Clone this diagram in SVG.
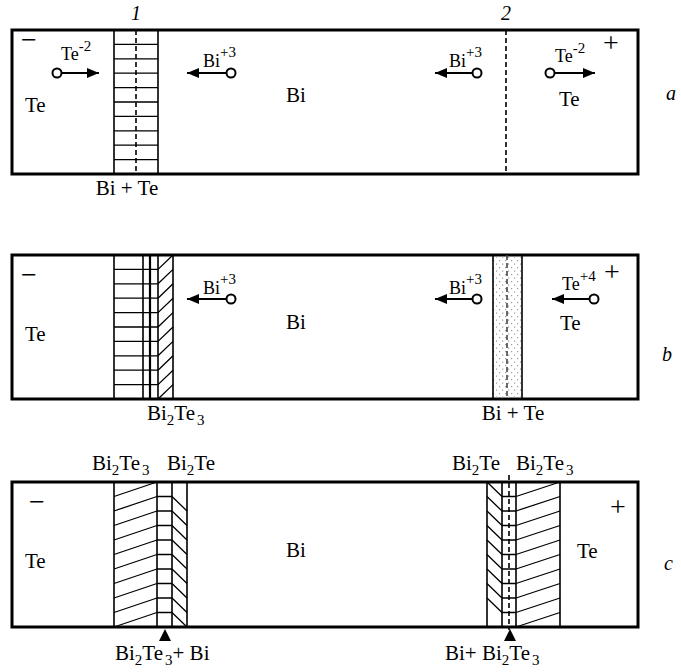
<svg xmlns="http://www.w3.org/2000/svg" width="681" height="672" viewBox="0 0 681 672" font-family="Liberation Serif, Times New Roman, Tinos, Nimbus Roman, DejaVu Serif, serif">
<defs>
<style>
text{font-family:Liberation Serif, Times New Roman, Tinos, Nimbus Roman, DejaVu Serif, serif;fill:#000}
.lbl{font-size:21px}
.ion{font-size:18px}
.sup{font-size:15px}
.sign{font-size:28px}
.it{font-style:italic;font-size:20px}
.mid{text-anchor:middle}
.box{fill:#fff;stroke:#000;stroke-width:3}
.v{stroke:#000;stroke-width:1.6;fill:none}
.h{stroke:#000;stroke-width:1.3;fill:none}
.dash{stroke:#000;stroke-width:1.6;stroke-dasharray:5,3;fill:none}
.arr{stroke:#000;stroke-width:2;fill:none;marker-end:url(#ah)}
.ioncirc{fill:#fff;stroke:#000;stroke-width:2}
</style>
<marker id="ah" markerUnits="userSpaceOnUse" markerWidth="12" markerHeight="10" refX="12" refY="5" orient="auto">
<path d="M0,0 L12,5 L0,10 z" fill="#000"/>
</marker>
<pattern id="dots" patternUnits="userSpaceOnUse" width="6" height="7">
<rect x="1" y="1" width="1.2" height="1.2" fill="#999"/>
<rect x="4" y="4.5" width="1.2" height="1.2" fill="#999"/>
</pattern>
</defs>

<!-- Panel a -->
<g id="panel-a">
<rect class="box" x="12" y="30" width="626" height="144"/>
<g id="a-band1">
<path class="h" d="M114,44.4H158M114,58.8H158M114,73.2H158M114,87.6H158M114,102H158M114,116.4H158M114,130.8H158M114,145.2H158M114,159.6H158"/>
<path class="v" d="M114,30V174M158,30V174"/>
<path class="dash" d="M136,30V174"/>
<text class="it" x="131" y="20">1</text>
</g>
<g id="a-line2">
<path class="dash" d="M506,30V174"/>
<text class="it" x="501" y="20">2</text>
</g>
<text class="sign" x="21" y="49">−</text>
<text class="sign" x="603" y="52">+</text>
<text class="lbl" x="25" y="112">Te</text>
<text class="lbl" x="286" y="102">Bi</text>
<text class="lbl" x="559" y="106">Te</text>
<g id="a-ion1"><text class="ion" x="61" y="60">Te<tspan class="sup" dy="-9">-2</tspan></text><path class="arr" d="M62,73H99"/><circle class="ioncirc" cx="57" cy="73" r="4.5"/></g>
<g id="a-ion2"><text class="ion" x="203" y="67">Bi<tspan class="sup" dy="-10">+3</tspan></text><path class="arr" d="M226,73H187"/><circle class="ioncirc" cx="231" cy="73" r="4.5"/></g>
<g id="a-ion3"><text class="ion" x="449" y="67">Bi<tspan class="sup" dy="-10">+3</tspan></text><path class="arr" d="M472,73H435"/><circle class="ioncirc" cx="477" cy="73" r="4.5"/></g>
<g id="a-ion4"><text class="ion" x="555" y="62">Te<tspan class="sup" dy="-9">-2</tspan></text><path class="arr" d="M555,73H595"/><circle class="ioncirc" cx="550" cy="73" r="4.5"/></g>
<text class="lbl mid" x="127" y="195">Bi + Te</text>
<text class="it" x="666" y="100">a</text>
</g>

<!-- Panel b -->
<g id="panel-b">
<rect class="box" x="12" y="255" width="626" height="144"/>
<g id="b-band1">
<path class="h" d="M114,269.4H158M114,283.8H158M114,298.2H158M114,312.6H158M114,327H158M114,341.4H158M114,355.8H158M114,370.2H158M114,384.6H158"/>
<path class="h" d="M158,269.4L173,255M158,283.8L173,269.4M158,298.2L173,283.8M158,312.6L173,298.2M158,327L173,312.6M158,341.4L173,327M158,355.8L173,341.4M158,370.2L173,355.8M158,384.6L173,370.2M158,399L173,384.6"/>
<path class="v" d="M114,255V399M143,255V399M158,255V399M173,255V399"/>
<path class="v" style="stroke-width:2.2" d="M150,255V399"/>
</g>
<g id="b-band2">
<rect x="493" y="255" width="29" height="144" fill="url(#dots)" stroke="none"/>
<path class="v" d="M493,255V399M522,255V399"/>
<path class="dash" style="stroke:#444" d="M507,255V399"/>
</g>
<text class="sign" x="21" y="284">−</text>
<text class="sign" x="604" y="281">+</text>
<text class="lbl" x="25" y="341">Te</text>
<text class="lbl" x="286" y="329">Bi</text>
<text class="lbl" x="560" y="330">Te</text>
<g id="b-ion1"><text class="ion" x="203" y="294">Bi<tspan class="sup" dy="-10">+3</tspan></text><path class="arr" d="M226,299H187"/><circle class="ioncirc" cx="231" cy="299" r="4.5"/></g>
<g id="b-ion2"><text class="ion" x="449" y="294">Bi<tspan class="sup" dy="-10">+3</tspan></text><path class="arr" d="M472,299H435"/><circle class="ioncirc" cx="477" cy="299" r="4.5"/></g>
<g id="b-ion3"><text class="ion" x="562" y="290">Te<tspan class="sup" dy="-9">+4</tspan></text><path class="arr" d="M589,299H552"/><circle class="ioncirc" cx="594" cy="299" r="4.5"/></g>
<text class="lbl" x="147" y="420">Bi<tspan class="sup" dy="5">2</tspan><tspan dy="-5">Te</tspan><tspan class="sup" dy="5" dx="2">3</tspan></text>
<text class="lbl mid" x="513" y="420">Bi + Te</text>
<text class="it" x="662" y="361">b</text>
</g>

<!-- Panel c -->
<g id="panel-c">
<rect class="box" x="12" y="482" width="626" height="145"/>
<g id="c-band1">
<path class="h" d="M114,496.5L157,482M114,511L157,496.5M114,525.5L157,511M114,540L157,525.5M114,554.5L157,540M114,569L157,554.5M114,583.5L157,569M114,598L157,583.5M114,612.5L157,598M114,627L157,612.5"/>
<path class="h" d="M157,496.5H172M157,511H172M157,525.5H172M157,540H172M157,554.5H172M157,569H172M157,583.5H172M157,598H172M157,612.5H172"/>
<path class="h" d="M172,496.5L187,511M172,511L187,525.5M172,525.5L187,540M172,540L187,554.5M172,554.5L187,569M172,569L187,583.5M172,583.5L187,598M172,598L187,612.5M172,612.5L187,627"/>
<path class="v" d="M114,482V627M157,482V627M172,482V627M187,482V627"/>
</g>
<g id="c-band2">
<path class="h" d="M487,482L502,496.5M487,496.5L502,511M487,511L502,525.5M487,525.5L502,540M487,540L502,554.5M487,554.5L502,569M487,569L502,583.5M487,583.5L502,598M487,598L502,612.5"/>
<path class="h" d="M502,496.5H516M502,511H516M502,525.5H516M502,540H516M502,554.5H516M502,569H516M502,583.5H516M502,598H516M502,612.5H516"/>
<path class="h" d="M516,496.5L560,482M516,511L560,496.5M516,525.5L560,511M516,540L560,525.5M516,554.5L560,540M516,569L560,554.5M516,583.5L560,569M516,598L560,583.5M516,612.5L560,598M516,627L560,612.5"/>
<path class="v" d="M487,482V627M502,482V627M516,482V627M560,482V627"/>
<path class="dash" d="M509,475V630"/>
</g>
<text class="sign" x="29" y="511">−</text>
<text class="sign" x="610" y="516">+</text>
<text class="lbl" x="25" y="568">Te</text>
<text class="lbl" x="286" y="557">Bi</text>
<text class="lbl" x="577" y="558">Te</text>
<text class="lbl" x="92" y="470">Bi<tspan class="sup" dy="5">2</tspan><tspan dy="-5">Te</tspan><tspan class="sup" dy="5" dx="2">3</tspan></text>
<text class="lbl" x="167" y="470">Bi<tspan class="sup" dy="5">2</tspan><tspan dy="-5">Te</tspan></text>
<text class="lbl" x="452" y="470">Bi<tspan class="sup" dy="5">2</tspan><tspan dy="-5">Te</tspan></text>
<text class="lbl" x="516" y="470">Bi<tspan class="sup" dy="5">2</tspan><tspan dy="-5">Te</tspan><tspan class="sup" dy="5" dx="2">3</tspan></text>
<g id="c-arrow1"><path d="M165,629L171,641H159z" fill="#000"/></g>
<g id="c-arrow2"><path d="M510,629L516,641H504z" fill="#000"/></g>
<text class="lbl" x="115" y="660">Bi<tspan class="sup" dy="5">2</tspan><tspan dy="-5">Te</tspan><tspan class="sup" dy="5" dx="2">3</tspan><tspan dy="-5">+ Bi</tspan></text>
<text class="lbl" x="445" y="660">Bi+ Bi<tspan class="sup" dy="5">2</tspan><tspan dy="-5">Te</tspan><tspan class="sup" dy="5" dx="2">3</tspan></text>
<text class="it" x="664" y="570">c</text>
</g>
</svg>
